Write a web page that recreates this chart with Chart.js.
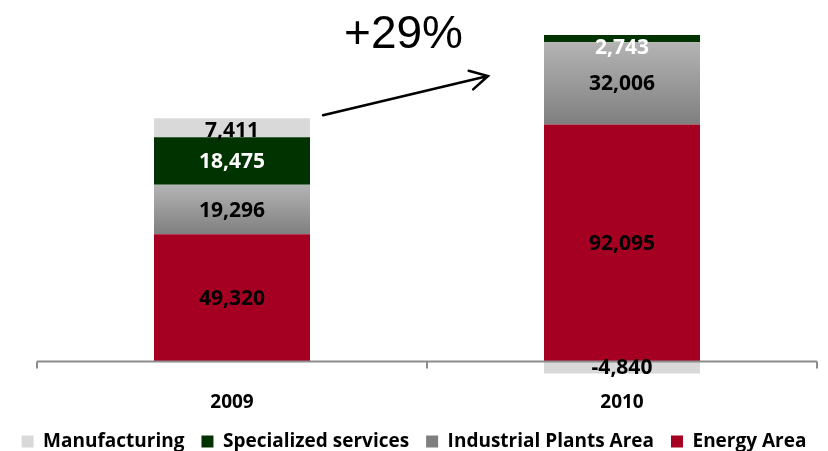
<!DOCTYPE html>
<html lang="en">
<head>
<meta charset="UTF-8">
<title>Revenue by area</title>
<script src="https://cdn.jsdelivr.net/npm/chart.js"></script>
<style>
  html, body { margin: 0; padding: 0; background: #fff; }
  #wrap { width: 828px; height: 451px; position: relative; }
</style>
</head>
<body>
<div id="wrap"><canvas id="grafico"></canvas></div>
<script>
// dados
const anos = ['2009', '2010'];
const energyArea = [49320, 92095];
const industrialPlants = [19296, 32006];
const specializedServices = [18475, 2743];
const manufacturing = [7411, -4840];
const crescimento = '+29%';

const fonte = "'Open Sans', sans-serif";

// gradiente cinza para cada segmento do Industrial Plants Area
function gradienteIndustrial(ctx) {
    const chart = ctx.chart;
    const y = chart.scales.y;
    if (!y || !chart.chartArea) return '#9a9a9a';
    const i = ctx.dataIndex;
    if (i === undefined) return '#9a9a9a';
    const base = y.getPixelForValue(energyArea[i]);
    const topo = y.getPixelForValue(energyArea[i] + industrialPlants[i]);
    const g = chart.ctx.createLinearGradient(0, topo, 0, base);
    g.addColorStop(0, '#b4b4b4');
    g.addColorStop(1, '#7f7f7f');
    return g;
}

// linha do eixo no zero, com tracinhos
const eixoZero = {
    id: 'eixoZero',
    afterDatasetsDraw(chart) {
        const c = chart.ctx, area = chart.chartArea;
        const y0 = Math.round(chart.scales.y.getPixelForValue(0)) + 0.5;
        const meio = (area.left + area.right) / 2;
        c.save();
        c.strokeStyle = '#8c8c8c';
        c.lineWidth = 2;
        c.beginPath();
        c.moveTo(area.left, y0);
        c.lineTo(area.right, y0);
        [area.left, meio, area.right].forEach(x => {
            c.moveTo(x, y0);
            c.lineTo(x, y0 + 7);
        });
        c.stroke();
        c.restore();
    }
};

// rotulos de valor dentro das barras
const rotulos = {
    id: 'rotulos',
    afterDatasetsDraw(chart) {
        const c = chart.ctx;
        c.save();
        c.font = "bold 21px " + fonte;
        c.textAlign = 'center';
        c.textBaseline = 'middle';
        chart.data.datasets.forEach((ds, d) => {
            const meta = chart.getDatasetMeta(d);
            meta.data.forEach((el, i) => {
                const v = ds.data[i];
                let cy = (el.y + el.base) / 2;
                if (v > 0 && Math.abs(el.base - el.y) < 20) {
                    cy = Math.max(cy, Math.min(el.y, el.base) + 12);
                }
                c.fillStyle = ds.corRotulo;
                c.fillText(v.toLocaleString('en-US'), el.x, cy + 1);
            });
        });
        c.restore();
    }
};

// seta e texto de crescimento
const seta = {
    id: 'seta',
    afterDraw(chart) {
        const c = chart.ctx;
        const x = chart.scales.x, y = chart.scales.y;
        const meia = chart.getDatasetMeta(0).data[0].width / 2;
        const total0 = energyArea[0] + industrialPlants[0] + specializedServices[0] + manufacturing[0];
        const x1 = x.getPixelForValue(0) + meia + 13;
        const y1 = y.getPixelForValue(total0) - 3;
        const x2 = x.getPixelForValue(1) - meia - 56;
        const y2 = 76;
        c.save();
        c.strokeStyle = '#000';
        c.lineWidth = 2.5;
        c.lineCap = 'round';
        c.beginPath();
        c.moveTo(x1, y1);
        c.lineTo(x2, y2);
        const ang = Math.atan2(y2 - y1, x2 - x1);
        c.moveTo(x2 - 20 * Math.cos(ang - 0.5), y2 - 20 * Math.sin(ang - 0.5));
        c.lineTo(x2, y2);
        c.lineTo(x2 - 20 * Math.cos(ang + 0.5), y2 - 20 * Math.sin(ang + 0.5));
        c.stroke();
        c.fillStyle = '#000';
        c.font = "46px 'Liberation Sans', Arial, sans-serif";
        c.textAlign = 'center';
        c.textBaseline = 'alphabetic';
        c.fillText(crescimento, (x1 + x2) / 2 - 2, 48);
        c.restore();
    }
};

new Chart(document.getElementById('grafico'), {
    type: 'bar',
    data: {
        labels: anos,
        datasets: [
            { label: 'Energy Area', data: energyArea, backgroundColor: '#a50021', corRotulo: '#000' },
            { label: 'Industrial Plants Area', data: industrialPlants, backgroundColor: gradienteIndustrial, corRotulo: '#000' },
            { label: 'Specialized services', data: specializedServices, backgroundColor: '#003300', corRotulo: '#fff' },
            { label: 'Manufacturing', data: manufacturing, backgroundColor: '#d9d9d9', corRotulo: '#000' }
        ]
    },
    options: {
        responsive: true,
        maintainAspectRatio: false,
        animation: false,
        layout: { padding: { left: 0, right: 0, top: 27, bottom: -10 } },
        datasets: { bar: { barPercentage: 0.8, categoryPercentage: 0.5, borderWidth: 0 } },
        scales: {
            x: {
                stacked: true,
                grid: { display: false },
                border: { display: false },
                ticks: { color: '#000', font: { family: fonte, size: 19, weight: 'bold' }, padding: 1 }
            },
            y: {
                stacked: true,
                min: -8200,
                max: 130000,
                grid: { display: false },
                border: { display: false },
                ticks: { display: false },
                afterFit(s) { s.width = 37; }
            },
            folga: {
                position: 'right',
                grid: { display: false },
                border: { display: false },
                ticks: { display: false },
                afterFit(s) { s.width = 11; }
            }
        },
        plugins: {
            tooltip: { enabled: false },
            legend: {
                position: 'bottom',
                reverse: true,
                labels: {
                    boxWidth: 12,
                    boxHeight: 12,
                    padding: 17,
                    color: '#000',
                    font: { family: fonte, size: 19, weight: 'bold' }
                }
            }
        }
    },
    plugins: [eixoZero, rotulos, seta]
});
</script>
</body>
</html>
